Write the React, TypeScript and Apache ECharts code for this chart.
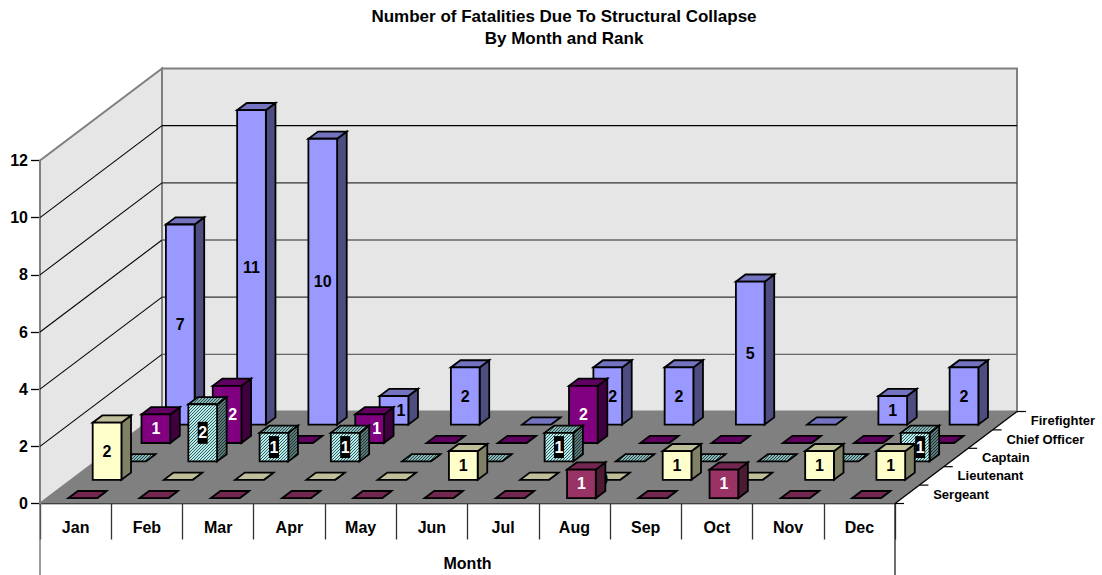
import React, { useEffect, useRef } from "react";
import * as echarts from "echarts";

const months = ["Jan", "Feb", "Mar", "Apr", "May", "Jun", "Jul", "Aug", "Sep", "Oct", "Nov", "Dec"];
const ranks = ["Sergeant", "Lieutenant", "Captain", "Chief Officer", "Firefighter"];
const yTicks = [0, 2, 4, 6, 8, 10, 12];

const sergeant = [0, 0, 0, 0, 0, 0, 0, 1, 0, 1, 0, 0];
const lieutenant = [2, 0, 0, 0, 0, 1, 0, 0, 1, 0, 1, 1];
const captain = [0, 2, 1, 1, 0, 0, 1, 0, 0, 0, 0, 1];
const chiefOfficer = [1, 2, 0, 1, 0, 0, 2, 0, 0, 0, 0, 0];
const firefighter = [7, 11, 10, 1, 2, 0, 2, 2, 5, 0, 1, 2];

const rankValues = [sergeant, lieutenant, captain, chiefOfficer, firefighter];

const FONT = '"Liberation Sans", Arial, sans-serif';
const DEPTH_X = 122;
const DEPTH_Y = 92;
const RATIO = DEPTH_X / DEPTH_Y;
const ROW_Y = DEPTH_Y / 5;
const ROW_START = 5.3;
const BAR_DX = 9.6;
const BAR_DY = 7.2;

function hatch(bg: string, fg: string) {
  const c = document.createElement("canvas");
  c.width = 3;
  c.height = 3;
  const g = c.getContext("2d")!;
  g.fillStyle = bg;
  g.fillRect(0, 0, 3, 3);
  g.fillStyle = fg;
  for (let i = 0; i < 3; i++) g.fillRect(i, 2 - i, 1, 1);
  return { image: c.toDataURL(), repeat: "repeat", imageWidth: 3, imageHeight: 3 };
}

function App() {
  const ref = useRef<HTMLDivElement>(null);
  useEffect(() => {
    const chart = echarts.init(ref.current!, null, { renderer: "svg" });

    const faces: any[] = [
      { front: "#993366", side: "#4d1a33", top: "#732650", text: "#fff" },
      { front: "#ffffcc", side: "#808066", top: "#bfbf99", text: "#000" },
      {
        front: hatch("#bbeaea", "#2f5f5f"),
        side: hatch("#5f7878", "#1a3333"),
        top: hatch("#8cb3b3", "#264d4d"),
        text: "#fff",
        box: true,
      },
      { front: "#800080", side: "#400040", top: "#600060", text: "#fff" },
      { front: "#9999ff", side: "#4d4d80", top: "#7373bf", text: "#000" },
    ];
    const labelShift: Record<string, number> = {
      "4:3": 7,
      "4:6": 5,
      "3:1": 5.5,
      "3:3": 7,
      "2:11": 5,
    };
    const zeroLabels: Record<string, number> = { "1:7": -2 };
    const gridColors: Record<number, string> = { 2: "#666", 4: "#333", 6: "#666", 8: "#333", 10: "#000" };

    const stroke = { stroke: "#000", lineWidth: 1.8, lineJoin: "miter" };

    const wallItem = (params: any, api: any) => {
      const c = params.coordSys;
      const value = api.value(0);
      const y = api.coord([0, value])[1];
      const x0 = c.x;
      const x1 = c.x + c.width;
      const y0 = c.y + c.height;
      if (value === 0) {
        const top = api.coord([0, 12])[1];
        const children: any[] = [
          {
            type: "polygon",
            shape: { points: [[x0, y0], [x0 + DEPTH_X, y0 - DEPTH_Y], [x0 + DEPTH_X, top - DEPTH_Y], [x0, top]] },
            style: { fill: "#e6e6e6", stroke: "#808080", lineWidth: 2 },
          },
          {
            type: "polygon",
            shape: {
              points: [
                [x0 + DEPTH_X, y0 - DEPTH_Y],
                [x1 + DEPTH_X, y0 - DEPTH_Y],
                [x1 + DEPTH_X, top - DEPTH_Y],
                [x0 + DEPTH_X, top - DEPTH_Y],
              ],
            },
            style: { fill: "#e6e6e6", stroke: "#808080", lineWidth: 2 },
          },
          {
            type: "polygon",
            shape: { points: [[x0, y0], [x1, y0], [x1 + DEPTH_X, y0 - DEPTH_Y], [x0 + DEPTH_X, y0 - DEPTH_Y]] },
            style: { fill: "#808080" },
          },
          {
            type: "line",
            shape: { x1: x1, y1: y0, x2: x1 + DEPTH_X, y2: y0 - DEPTH_Y },
            style: { stroke: "#000", lineWidth: 1.3 },
          },
          { type: "line", shape: { x1: x0, y1: y0, x2: x0, y2: 575 }, style: { stroke: "#666", lineWidth: 1.3 } },
          { type: "line", shape: { x1: x1, y1: y0, x2: x1, y2: 575 }, style: { stroke: "#222", lineWidth: 1.3 } },
        ];
        for (let r = 0; r <= 5; r++) {
          const px = x1 + (DEPTH_X * r) / 5;
          const py = y0 - (DEPTH_Y * r) / 5;
          children.push({
            type: "line",
            shape: { x1: px, y1: py, x2: px + 9, y2: py },
            style: { stroke: "#000", lineWidth: 1.2 },
          });
        }
        ranks.forEach((name, r) => {
          children.push({
            type: "text",
            style: {
              text: name,
              x: x1 + (DEPTH_X * (r + 0.5)) / 5 + 26,
              y: y0 - (DEPTH_Y * (r + 0.5)) / 5,
              font: `bold 13px ${FONT}`,
              fill: "#000",
              align: "left",
              verticalAlign: "middle",
              textAlign: "left",
              textVerticalAlign: "middle",
            },
          });
        });
        return { type: "group", children };
      }
      if (value === 12) return { type: "group", children: [] };
      return {
        type: "group",
        children: [
          {
            type: "line",
            shape: { x1: x0, y1: y, x2: x0 + DEPTH_X, y2: y - DEPTH_Y },
            style: { stroke: "#000", lineWidth: 1.1 },
          },
          {
            type: "line",
            shape: { x1: x0 + DEPTH_X, y1: y - DEPTH_Y, x2: x1 + DEPTH_X, y2: y - DEPTH_Y },
            style: { stroke: gridColors[value], lineWidth: 1.3 },
          },
        ],
      };
    };

    const barItem = (r: number) => (_params: any, api: any) => {
      const m = api.value(0);
      const v = api.value(1);
      const f = faces[r];
      const base = api.coord([m, 0]);
      const topP = api.coord([m, v]);
      const w = api.size([1, 0])[0] * 0.403;
      const offY = ROW_START + ROW_Y * r;
      const offX = offY * RATIO;
      const x0 = base[0] + offX - w / 2;
      const x1 = x0 + w;
      const yb = base[1] - offY;
      const yt = topP[1] - offY;
      const children: any[] = [
        {
          type: "polygon",
          shape: { points: [[x1, yb], [x1 + BAR_DX, yb - BAR_DY], [x1 + BAR_DX, yt - BAR_DY], [x1, yt]] },
          style: { fill: f.side, ...stroke },
        },
        {
          type: "polygon",
          shape: { points: [[x0, yt], [x1, yt], [x1 + BAR_DX, yt - BAR_DY], [x0 + BAR_DX, yt - BAR_DY]] },
          style: { fill: f.top, ...stroke },
        },
      ];
      if (v > 0) {
        children.push({
          type: "rect",
          shape: { x: x0, y: yt, width: w, height: yb - yt },
          style: { fill: f.front, ...stroke },
        });
      }
      const key = `${r}:${m}`;
      const showZero = key in zeroLabels;
      if (v > 0 || showZero) {
        const cx = (x0 + x1) / 2 + (labelShift[key] || 0) + (zeroLabels[key] || 0);
        const cy = (yb + yt) / 2;
        if (f.box) {
          children.push({
            type: "rect",
            shape: { x: cx - 5, y: cy - 11, width: 10, height: 22 },
            style: { fill: "#000" },
          });
        }
        children.push({
          type: "text",
          style: {
            text: String(v),
            x: cx,
            y: cy,
            font: `bold 16px ${FONT}`,
            fill: f.text,
            align: "center",
            verticalAlign: "middle",
            textAlign: "center",
            textVerticalAlign: "middle",
          },
        });
      }
      return { type: "group", children };
    };

    const barSeries = [4, 3, 2, 1, 0].map((r, i) => ({
      type: "custom",
      name: ranks[r],
      coordinateSystem: "cartesian2d",
      z: 3 + i,
      silent: true,
      encode: { x: 0, y: 1 },
      data: rankValues[r].map((v, m) => [m, v]),
      renderItem: barItem(r),
    }));

    chart.setOption({
      animation: false,
      title: {
        text: "Number of Fatalities Due To Structural Collapse\nBy Month and Rank",
        left: 559,
        top: 0,
        textAlign: "center",
        textStyle: { fontFamily: FONT, fontWeight: "bold", fontSize: 17, lineHeight: 22, color: "#000" },
      },
      grid: { left: 40, right: 207, top: 160.5, bottom: 71.5, outerBoundsMode: "none" },
      xAxis: {
        type: "category",
        data: months,
        name: "Month",
        nameLocation: "middle",
        nameGap: 51.5,
        nameTextStyle: { fontFamily: FONT, fontWeight: "bold", fontSize: 16, color: "#000" },
        axisLine: { lineStyle: { color: "#000", width: 1.3 } },
        axisTick: { show: true, length: 36, lineStyle: { color: "#333", width: 1.3 } },
        axisLabel: { margin: 15.5, fontFamily: FONT, fontWeight: "bold", fontSize: 16, color: "#000" },
        splitLine: { show: false },
      },
      yAxis: {
        type: "value",
        min: 0,
        max: 12,
        interval: 2,
        axisLine: { show: true, lineStyle: { color: "#222", width: 1.3 } },
        axisTick: { show: true, length: 9, lineStyle: { color: "#000", width: 1.3 } },
        axisLabel: { margin: 12, fontFamily: FONT, fontWeight: "bold", fontSize: 16, color: "#000" },
        splitLine: { show: false },
      },
      series: [
        {
          type: "custom",
          name: "walls",
          coordinateSystem: "cartesian2d",
          z: 1,
          silent: true,
          encode: { y: 0 },
          data: yTicks.map((t) => [t]),
          renderItem: wallItem,
        },
        ...barSeries,
      ],
    });
    return () => chart.dispose();
  }, []);
  return <div ref={ref} style={{ position: "absolute", left: 0, top: 0, width: 1102, height: 575 }} />;
}

export default App;
